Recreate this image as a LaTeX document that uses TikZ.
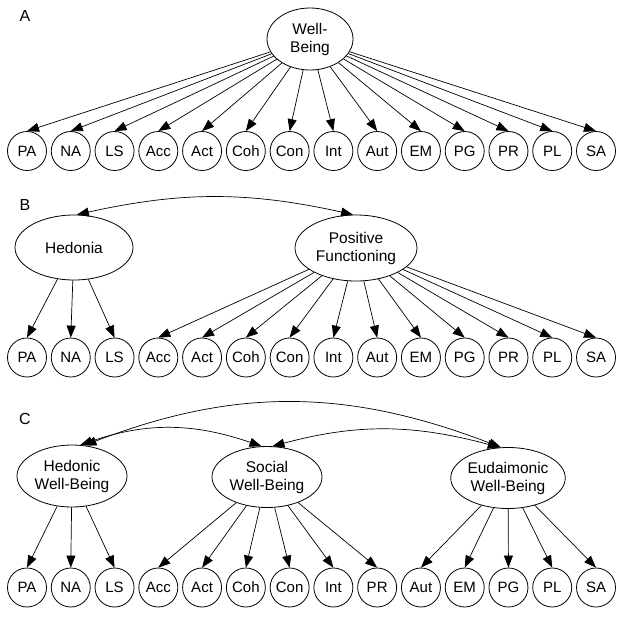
\documentclass[tikz,border=0pt]{standalone}
\usepackage{fontspec}
\setmainfont{Liberation Sans}
\usetikzlibrary{shapes.geometric,arrows.meta}
\begin{document}
\begin{tikzpicture}[x=1pt,y=1pt,
 obs/.style={circle,draw,line width=0.8pt,minimum size=39pt,inner sep=0pt,font=\fontsize{15}{18}\selectfont},
 lat/.style={ellipse,draw,line width=0.8pt,inner sep=0pt,align=center,font=\fontsize{15.5}{18}\selectfont},
 arr/.style={line width=0.7pt,-{Triangle[length=12pt,width=9pt]}},
 biarr/.style={line width=0.7pt,{Triangle[length=12pt,width=9pt]}-{Triangle[length=12pt,width=9pt]}},
 panel/.style={font=\fontsize{16}{19}\selectfont}]
\useasboundingbox (0,0) rectangle (624,-616);
% Panel A
\node[panel] (labA) at (25,-16) {A};
\node[lat,minimum width=86pt,minimum height=62pt] (wb) at (310,-39) {Well-\\Being};
\foreach \lab [count=\i from 0] in {PA,NA,LS,Acc,Act,Coh,Con,Int,Aut,EM,PG,PR,PL,SA}
  \node[obs] (a\i) at ({27+43.77*\i},-151) {\lab};
\foreach \i in {0,...,13} \draw[arr] (wb) -- (a\i.north);
% Panel B
\node[panel] (labB) at (25,-205) {B};
\node[lat,minimum width=118pt,minimum height=65pt] (hed) at (74,-247.5) {Hedonia};
\node[lat,minimum width=122pt,minimum height=66pt] (pf) at (356,-248) {Positive\\Functioning};
\foreach \lab [count=\i from 0] in {PA,NA,LS,Acc,Act,Coh,Con,Int,Aut,EM,PG,PR,PL,SA}
  \node[obs] (b\i) at ({27+43.77*\i},-357.5) {\lab};
\foreach \i in {0,1,2} \draw[arr] (hed) -- (b\i.north);
\foreach \i in {3,...,13} \draw[arr] (pf) -- (b\i.north);
\draw[biarr] (hed.85) to[out=12.5,in=167.5] (pf.95);
% Panel C
\node[panel] (labC) at (25,-419) {C};
\node[lat,minimum width=110pt,minimum height=62pt] (hwb) at (72,-476) {Hedonic\\Well-Being};
\node[lat,minimum width=110pt,minimum height=61pt] (swb) at (267,-477) {Social\\Well-Being};
\node[lat,minimum width=111pt,minimum height=61pt] (ewb) at (508,-478) {Eudaimonic\\Well-Being};
\foreach \lab [count=\i from 0] in {PA,NA,LS,Acc,Act,Coh,Con,Int,PR,Aut,EM,PG,PL,SA}
  \node[obs] (c\i) at ({27+43.77*\i},-587.5) {\lab};
\foreach \i in {0,1,2} \draw[arr] (hwb) -- (c\i.north);
\foreach \i in {3,...,8} \draw[arr] (swb) -- (c\i.north);
\foreach \i in {9,...,13} \draw[arr] (ewb) -- (c\i.north);
\draw[biarr] (hwb.75) to[out=19,in=161] (swb.100);
\draw[biarr] (swb.80) to[out=15,in=165] (ewb.105);
\draw[biarr] (hwb.68) to[out=21,in=159] (ewb.103);
\end{tikzpicture}
\end{document}
